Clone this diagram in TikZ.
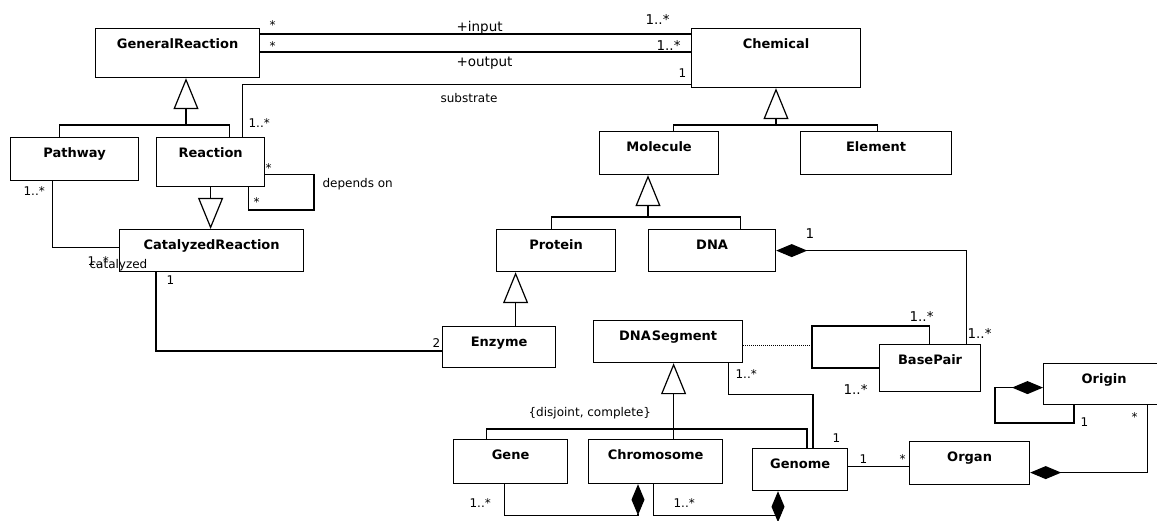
\documentclass[tikz,border=0pt]{standalone}
\usepackage{fontspec}
\setmainfont{DejaVu Sans}
\usetikzlibrary{arrows.meta}

\newcommand\clsfont{\fontsize{13}{15}\selectfont\bfseries}
\newcommand\labfont{\fontsize{12}{14}\selectfont}
\newcommand\bigfont{\fontsize{13.5}{15}\selectfont}

\begin{document}
\begin{tikzpicture}[x=1pt,y=-1pt,line width=1.2pt,
  cls/.style 2 args={draw,anchor=north west,inner sep=0pt,minimum width=#1,
    text height=20pt,text depth=#2,font=\clsfont},
  mult/.style={anchor=base west,inner sep=0pt,font=\labfont},
  bigmult/.style={mult,font=\bigfont},
  gen/.style={-{Triangle[open,length=31pt,width=25pt]}},
  comp/.style={{Diamond[length=31pt,width=13pt]}-}]
  \useasboundingbox (0,0) rectangle (1157,521);
  \clip (0,0) rectangle (1157,521);

  % classes
  \node[cls={164pt}{29pt}] (gr) at (95,28) {GeneralReaction};
  \node[cls={169pt}{39pt}] (chem) at (691,28) {Chemical};
  \node[cls={128pt}{23pt}] (pathw) at (10,137) {Pathway};
  \node[cls={108pt}{29pt}] (reac) at (156,137) {Reaction};
  \node[cls={184pt}{22pt}] (cat) at (119,229) {CatalyzedReaction};
  \node[cls={119pt}{23pt}] (mol) at (599,131) {Molecule};
  \node[cls={151pt}{23pt}] (elem) at (800,131) {Element};
  \node[cls={119pt}{22pt}] (prot) at (496,229) {Protein};
  \node[cls={127pt}{22pt}] (dna) at (648,229) {DNA};
  \node[cls={113pt}{21pt}] (enz) at (442,326) {Enzyme};
  \node[cls={149pt}{22pt}] (seg) at (593,320) {DNA\hspace{1pt}Segment};
  \node[cls={101pt}{27pt}] (bp) at (879,344) {BasePair};
  \node[cls={121pt}{21pt}] (orig) at (1043,363) {Origin};
  \node[cls={120pt}{23pt}] (organ) at (909,441) {Organ};
  \node[cls={95pt}{22pt}] (genome) at (752,448) {Genome};
  \node[cls={114pt}{24pt}] (gene) at (453,439) {Gene};
  \node[cls={134pt}{24pt}] (chromo) at (588,439) {Chromosome};

  % generalizations
  \coordinate (grbar) at (186,125);
  \draw ([xshift=-15pt]pathw.north) |- (grbar) -| ([xshift=19pt]reac.north);
  \draw[gen] (grbar) -- (grbar |- gr.south);
  \draw[gen] (reac.south) -- (reac.south |- cat.north);
  \coordinate (chembar) at (776,125);
  \draw ([xshift=14.5pt]mol.north) |- (chembar) -| ([xshift=1.5pt]elem.north);
  \draw[gen] (chembar) -- (chembar |- chem.south);
  \coordinate (molbar) at (648,217);
  \draw ([xshift=-4.5pt]prot.north) |- (molbar) -| ([xshift=28.5pt]dna.north);
  \draw[gen] (molbar) -- (molbar |- mol.south);
  \coordinate (enztop) at ([xshift=16.5pt]enz.north);
  \draw[gen] (enztop) -- (enztop |- prot.south);
  \coordinate (genbar) at (673,429);
  \draw ([xshift=-24pt]gene.north) |- (genbar) -| ([xshift=55pt]genome.north west);
  \coordinate (chrtop) at ([xshift=18pt]chromo.north);
  \draw[gen] (chrtop) -- (chrtop |- seg.south);

  % associations
  \draw ([yshift=-6pt]gr.north east) -- ([yshift=-6pt]chem.north west);
  \draw ([yshift=-24pt]gr.north east) -- ([yshift=-24pt]chem.north west);
  \draw ([xshift=-23pt]reac.north east) |- ([yshift=4pt]chem.south west);
  \coordinate (reacloop) at (314,210);
  \draw ([yshift=13pt]reac.south east) -| (reacloop) -| ([xshift=-17pt]reac.south east);
  \draw ([xshift=-22pt]pathw.south) |- ([yshift=3pt]cat.west);
  \draw ([xshift=37pt]cat.south west) |- ([yshift=-4pt]enz.west);
  \draw ([xshift=-15pt]seg.south east) -- ++(0,31) -| ([xshift=61pt]genome.north west);
  \coordinate (gorg) at ([yshift=3pt]genome.east);
  \draw (gorg) -- (gorg -| organ.west);
  \coordinate (bploop) at (812,326);
  \draw ([xshift=-52pt]bp.north east) |- (bploop) |- (bp.west);
  \coordinate (dotl) at ([yshift=-4pt]seg.east);
  \draw[dash pattern=on 1pt off 1pt] (dotl) -- (dotl -| bploop);

  % compositions
  \draw[comp] (dna.east) -| ([xshift=-15pt]bp.north east);
  \draw[comp] ([xshift=50pt]chromo.south west) -- ++(0,31) -| ([xshift=-6pt]gene.south);
  \draw[comp] ([xshift=26pt]genome.south west) -- ++(0,31);
  \draw ([xshift=26pt,yshift=-24pt]genome.south west) -| ([xshift=-2pt]chromo.south);
  \draw[comp] ([yshift=-9.5pt]organ.east) -| ([xshift=-18pt]orig.south east);
  \coordinate (origloop) at (995,423);
  \draw[comp] ([yshift=-3.5pt]orig.west) -| (origloop) -| ([xshift=31pt]orig.south west);

  % role names and multiplicities
  \node[mult] (m-grin) at (269,30) {*};
  \node[mult] (m-grout) at (269,51) {*};
  \node[bigmult] (m-chin) at (645,25) {1..*};
  \node[bigmult] (m-chout) at (656,51) {1..*};
  \node[bigmult] (r-in) at (456,32) {+input};
  \node[bigmult] (r-out) at (456,67) {+output};
  \node[mult] (m-chsub) at (678,78) {1};
  \node[mult] (m-resub) at (248,128) {1..*};
  \node[mult] (r-sub) at (440,103) {substrate};
  \node[mult] (m-dep1) at (265,173) {*};
  \node[mult] (m-dep2) at (253,207) {*};
  \node[mult] (r-dep) at (322,188) {depends on};
  \node[mult] (m-pw) at (23,196) {1..*};
  \node[mult] (m-catpw) at (87,266) {1..*};
  \node[mult] (r-cat) at (89,269) {catalyzed};
  \node[mult] (m-catenz) at (166,285) {1};
  \node[mult] (m-enz) at (432,348) {2};
  \node[bigmult] (m-dna) at (805,239) {1};
  \node[bigmult] (m-bpdna) at (967,338) {1..*};
  \node[bigmult] (m-bp1) at (909,322) {1..*};
  \node[bigmult] (m-bp2) at (843,395) {1..*};
  \node[mult] (m-seg) at (735,378) {1..*};
  \node[mult] (m-gnseg) at (832,442) {1};
  \node[mult] (r-disj) at (528,417) {\{disjoint, complete\}};
  \node[mult] (m-gene) at (469,507) {1..*};
  \node[mult] (m-chr) at (673,507) {1..*};
  \node[mult] (m-gnorg) at (859,463) {1};
  \node[mult] (m-org) at (899,463) {*};
  \node[mult] (m-orig1) at (1080,426) {1};
  \node[mult] (m-orig2) at (1131,421) {*};
\end{tikzpicture}
\end{document}
